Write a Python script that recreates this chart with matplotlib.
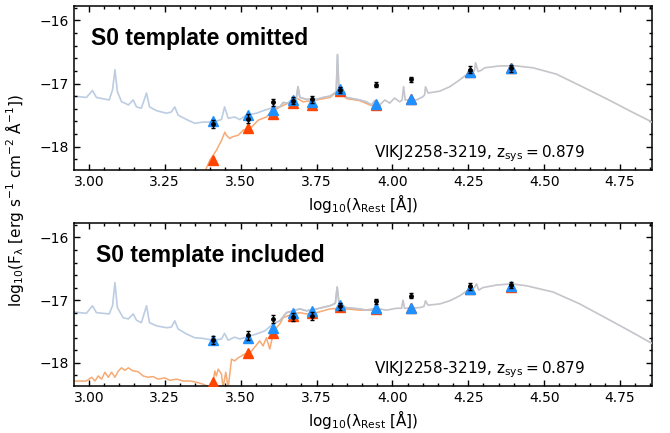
#!/usr/bin/env python3
# -*- coding: utf-8 -*-

import numpy
import matplotlib
matplotlib.use("Agg")
import matplotlib.pyplot as plt
from matplotlib.ticker import MultipleLocator

# photometry (same in both panels)
phot_x = [3.410, 3.523, 3.607, 3.671, 3.736, 3.826, 3.945, 4.060, 4.255, 4.392]
phot_y = [-17.64, -17.56, -17.30, -17.27, -17.25, -17.10, -17.02, -16.93, -16.78, -16.76]
phot_err = [0.06, 0.07, 0.06, 0.06, 0.06, 0.05, 0.04, 0.04, 0.06, 0.05]

# model photometry, top panel (S0 omitted)
top_total_phot = [-17.59, -17.50, -17.42, -17.26, -17.30, -17.09, -17.32, -17.24, -16.81, -16.75]
top_gal_phot = [-18.21, -17.71, -17.49, -17.31, -17.34, -17.12, -17.34, -17.25, -16.82, -16.76]

# model photometry, bottom panel (S0 included)
bot_total_phot = [-17.64, -17.60, -17.44, -17.20, -17.18, -17.07, -17.13, -17.12, -16.82, -16.78]
bot_gal_phot = [-18.31, -17.84, -17.53, -17.25, -17.21, -17.11, -17.14, -17.13, -16.83, -16.79]

# total model spectrum, top panel
top_model_x = [2.951, 2.992, 3.012, 3.025, 3.067, 3.078, 3.086, 3.094, 3.108, 3.119,
               3.130, 3.146, 3.157, 3.173, 3.190, 3.200, 3.223, 3.256, 3.272, 3.283,
               3.294, 3.322, 3.349, 3.376, 3.409, 3.437, 3.447, 3.459, 3.480, 3.497,
               3.519, 3.552, 3.580, 3.607, 3.629, 3.640, 3.656, 3.673, 3.683, 3.689,
               3.695, 3.717, 3.750, 3.772, 3.794, 3.810, 3.815, 3.819, 3.824, 3.832,
               3.848, 3.870, 3.892, 3.914, 3.931, 3.942, 3.958, 3.975, 3.991, 4.007,
               4.024, 4.032, 4.037, 4.042, 4.079, 4.100, 4.106, 4.109, 4.117, 4.156,
               4.189, 4.222, 4.238, 4.265, 4.270, 4.274, 4.282, 4.293, 4.304, 4.354,
               4.408, 4.463, 4.540, 4.617, 4.705, 4.781, 4.855]
top_model_y = [-17.20, -17.22, -17.11, -17.22, -17.26, -17.10, -16.78, -17.13, -17.29, -17.31,
               -17.34, -17.26, -17.37, -17.39, -17.15, -17.37, -17.43, -17.47, -17.45, -17.37,
               -17.50, -17.57, -17.63, -17.61, -17.61, -17.57, -17.37, -17.55, -17.53, -17.57,
               -17.50, -17.47, -17.42, -17.38, -17.37, -17.30, -17.31, -17.24, -17.24, -17.05,
               -17.22, -17.25, -17.25, -17.22, -17.20, -17.15, -17.12, -16.54, -17.12, -17.15,
               -17.22, -17.24, -17.26, -17.29, -17.34, -17.27, -17.34, -17.26, -17.31, -17.23,
               -17.29, -17.26, -17.05, -17.26, -17.26, -17.21, -17.18, -17.05, -17.15, -17.12,
               -17.05, -16.94, -16.88, -16.80, -16.80, -16.67, -16.81, -16.79, -16.75, -16.72,
               -16.72, -16.75, -16.85, -17.03, -17.24, -17.43, -17.61]

# galaxy component, top panel
top_gal_x = [3.382, 3.398, 3.420, 3.437, 3.448, 3.453, 3.464, 3.475, 3.492, 3.508,
             3.536, 3.558, 3.585, 3.596, 3.629, 3.662, 3.684, 3.706, 3.750, 3.794,
             3.810, 3.819, 3.828, 3.850, 3.892, 3.931, 3.960]
top_gal_y = [-18.40, -18.22, -18.06, -17.90, -17.77, -17.82, -17.87, -17.84, -17.82, -17.74,
             -17.69, -17.58, -17.53, -17.47, -17.37, -17.30, -17.23, -17.29, -17.26, -17.22,
             -17.16, -17.14, -17.15, -17.24, -17.27, -17.35, -17.35]

# total model spectrum, bottom panel
bot_model_x = [2.951, 2.992, 3.012, 3.025, 3.067, 3.078, 3.086, 3.094, 3.113, 3.130,
               3.146, 3.157, 3.173, 3.190, 3.200, 3.223, 3.256, 3.272, 3.283, 3.294,
               3.322, 3.349, 3.376, 3.409, 3.437, 3.447, 3.459, 3.480, 3.497, 3.519,
               3.552, 3.580, 3.607, 3.629, 3.651, 3.673, 3.695, 3.717, 3.750, 3.794,
               3.812, 3.818, 3.824, 3.848, 3.892, 3.914, 3.947, 3.980, 4.013, 4.030,
               4.035, 4.040, 4.090, 4.104, 4.109, 4.117, 4.156, 4.189, 4.222, 4.255,
               4.270, 4.277, 4.284, 4.298, 4.342, 4.392, 4.441, 4.529, 4.617, 4.705,
               4.781, 4.855]
bot_model_y = [-17.19, -17.21, -17.09, -17.20, -17.22, -17.09, -16.72, -17.12, -17.28, -17.30,
               -17.22, -17.32, -17.36, -17.09, -17.36, -17.41, -17.44, -17.43, -17.33, -17.46,
               -17.54, -17.60, -17.61, -17.64, -17.62, -17.53, -17.64, -17.59, -17.62, -17.59,
               -17.54, -17.49, -17.38, -17.33, -17.20, -17.17, -17.14, -17.17, -17.14, -17.09,
               -17.05, -16.79, -17.05, -17.12, -17.14, -17.16, -17.13, -17.16, -17.13, -17.13,
               -17.00, -17.13, -17.12, -17.10, -17.01, -17.08, -17.06, -17.01, -16.93, -16.82,
               -16.80, -16.74, -16.84, -16.80, -16.76, -16.74, -16.77, -16.87, -17.06, -17.29,
               -17.49, -17.69]

# galaxy component, bottom panel
bot_gal_x = [2.951, 2.992, 3.009, 3.020, 3.031, 3.042, 3.053, 3.064, 3.075, 3.086,
             3.097, 3.108, 3.119, 3.130, 3.146, 3.162, 3.179, 3.195, 3.212, 3.228,
             3.250, 3.267, 3.289, 3.311, 3.333, 3.355, 3.376, 3.393, 3.405, 3.415,
             3.420, 3.426, 3.437, 3.442, 3.451, 3.459, 3.470, 3.480, 3.492, 3.503,
             3.514, 3.536, 3.558, 3.563, 3.574, 3.585, 3.596, 3.607, 3.618, 3.629,
             3.640, 3.656, 3.673, 3.695, 3.717, 3.750, 3.794, 3.827, 3.892, 3.960]
bot_gal_y = [-18.29, -18.29, -18.23, -18.29, -18.21, -18.26, -18.15, -18.23, -18.15, -18.23,
             -18.13, -18.08, -18.12, -18.08, -18.13, -18.14, -18.21, -18.23, -18.22, -18.26,
             -18.24, -18.28, -18.26, -18.29, -18.29, -18.31, -18.34, -18.38, -18.45, -18.13,
             -18.21, -18.10, -18.18, -18.40, -18.15, -18.40, -17.94, -17.97, -17.92, -17.89,
             -17.86, -17.81, -17.68, -17.65, -17.73, -17.60, -17.78, -17.54, -17.44, -17.38,
             -17.28, -17.25, -17.22, -17.20, -17.22, -17.20, -17.14, -17.13, -17.16, -17.16]

name = "VIKJ2258-3219, $\\mathrm{z_{sys}}=0.879$"


def draw_panel(axes, model_x, model_y, gal_x, gal_y, total_phot, gal_phot, title, title_x):
    model_x = numpy.array(model_x)
    model_y = numpy.array(model_y)
    blue = model_x <= 3.96
    grey = model_x >= 3.60
    # model spectra: total (blue below, grey above), galaxy component (orange)
    axes.plot(model_x[blue], model_y[blue], color='#bccde3', lw=1.2, zorder=1)
    axes.plot(gal_x, gal_y, color='#f6aa74', lw=1.1, zorder=2)
    axes.plot(model_x[grey], model_y[grey], color='#c4c4ca', lw=1.2, zorder=3)
    # model photometry and observed points
    axes.plot(phot_x, gal_phot, '^', color='#ff4500', ms=7.5, zorder=4)
    axes.plot(phot_x, total_phot, '^', color='#1e90ff', ms=7.5, zorder=5)
    axes.errorbar(phot_x, phot_y, yerr=phot_err, fmt='o', color='k', ms=2.5,
                  elinewidth=1, capsize=1.5, zorder=6)

    axes.set_xlim(2.951, 4.855)
    axes.set_ylim(-18.37, -15.77)
    axes.xaxis.set_major_locator(MultipleLocator(0.25))
    axes.xaxis.set_minor_locator(MultipleLocator(0.05))
    axes.yaxis.set_major_locator(MultipleLocator(1))
    axes.yaxis.set_minor_locator(MultipleLocator(0.2))
    axes.tick_params(which='both', direction='in', top=True, right=True, width=1, labelsize=10)
    axes.tick_params(which='major', length=4.5)
    axes.tick_params(which='minor', length=2.5)
    for s in axes.spines.values():
        s.set_linewidth(1.1)

    axes.set_xlabel("log$_{10}$(λ$_{\\rm Rest}$ [Å])", fontsize=11, labelpad=2)
    axes.text(title_x, 0.762, title, transform=axes.transAxes, fontsize=16.5,
              fontweight='bold', family='Liberation Sans')
    axes.text(0.885, 0.08, name, transform=axes.transAxes, fontsize=11, ha='right')


fig = plt.figure(figsize=(6.7, 4.33), dpi=100)
ax_top = fig.add_axes([0.1104, 0.6074, 0.8627, 0.3788])
ax_bot = fig.add_axes([0.1104, 0.1085, 0.8627, 0.3764])

draw_panel(ax_top, top_model_x, top_model_y, top_gal_x, top_gal_y,
           top_total_phot, top_gal_phot, "S0 template omitted", 0.029)
draw_panel(ax_bot, bot_model_x, bot_model_y, bot_gal_x, bot_gal_y,
           bot_total_phot, bot_gal_phot, "S0 template included", 0.038)

fig.text(0.021, 0.538, "log$_{10}$(F$_{\\mathrm{λ}}$ [erg s$^{-1}$ cm$^{-2}$ Å$^{-1}$])",
         rotation=90, ha='center', va='center', fontsize=11)

plt.savefig("out.png", dpi=100)
